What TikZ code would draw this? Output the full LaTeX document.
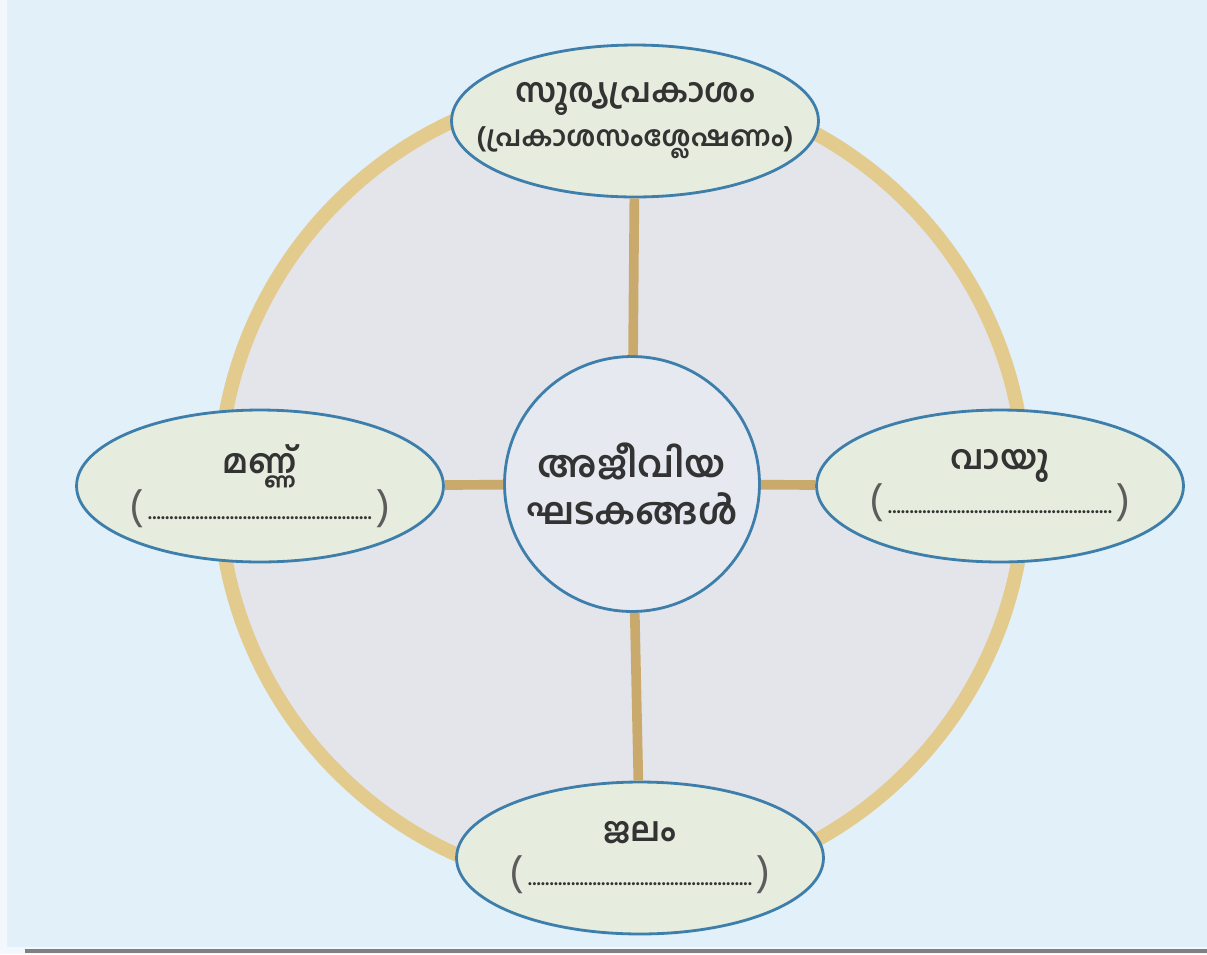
\documentclass[tikz,border=0pt]{standalone}
\usepackage{fontspec}
\newfontfamily\mlfont[Script=Malayalam]{Hind Kochi}
\usetikzlibrary{shapes.geometric}
\definecolor{bgblue}{HTML}{E2F0FA}
\definecolor{ringtan}{HTML}{E3CB8E}
\definecolor{spoketan}{HTML}{C9AA6C}
\definecolor{innergray}{HTML}{E3E5EB}
\definecolor{creamfill}{HTML}{E7EDDE}
\definecolor{hubfill}{HTML}{E6EAF0}
\definecolor{edgeblue}{HTML}{3D7EAB}
\definecolor{txtgray}{HTML}{333333}

\newcommand{\blank}{{\mdseries\fontsize{24}{24}\selectfont\color{txtgray!80}(}\,{\fontsize{11}{11}\selectfont ....................................................}\,{\mdseries\fontsize{24}{24}\selectfont\color{txtgray!80})}}

\begin{document}
\begin{tikzpicture}[x=0.02cm,y=-0.02cm,
    txt/.style={font=\mlfont\bfseries\fontsize{19}{25}\selectfont,text=txtgray,align=center},
    bubble/.style={ellipse,draw=edgeblue,line width=1.6pt,fill=creamfill,
      minimum width=7.34cm,minimum height=3.04cm,inner sep=0pt},
    spoke/.style={draw=spoketan,line width=5.5pt}]
    \useasboundingbox (0,0) rectangle (1207,954);
    % background and ring
    \fill[white!55!bgblue] (0,0) rectangle (1207,954);
    \fill[bgblue] (7,0) rectangle (1207,947);
    \draw[gray,line width=2pt] (25,951)--(1207,951);
    \draw[ringtan,line width=8pt,fill=innergray] (622,487) circle[radius=403];

    \node[circle,draw=edgeblue,line width=1.6pt,fill=hubfill,minimum size=5.1cm,inner sep=0pt,txt,font=\mlfont\bfseries\fontsize{21}{27}\selectfont](hub)at(632,484){അജീവിയ\\ഘടകങ്ങൾ};

    \node[bubble,label={[txt]center:സൂര്യപ്രകാശം\\{\fontsize{16}{20}\selectfont(പ്രകാശസംശ്ലേഷണം)}}](sun)at(635,121){};
    \node[bubble,label={[txt]center:മണ്ണ്\\\blank}](soil)at(260,486){};
    \node[bubble,label={[txt]center:വായു\\\blank}](air)at(1000,486){};
    \node[bubble,label={[txt]center:ജലം\\\blank}](water)at(640,858){};

    \draw[spoke](hub)--(sun);
    \draw[spoke](hub)--(soil);
    \draw[spoke](hub)--(air);
    \draw[spoke](hub)--(water);
\end{tikzpicture}
\end{document}
